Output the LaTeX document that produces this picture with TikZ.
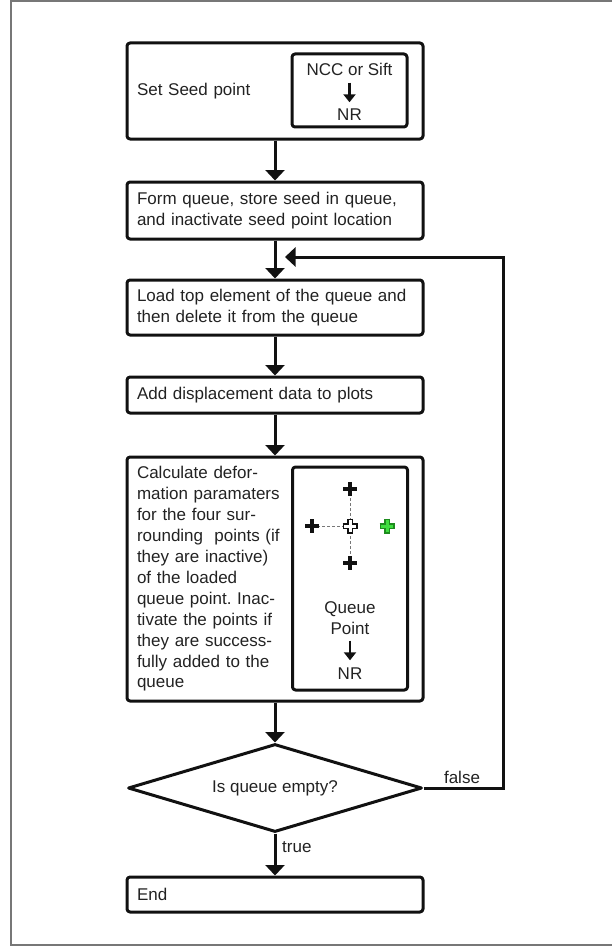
\documentclass[tikz,border=0pt]{standalone}
\usepackage{fontspec}
\setmainfont{Liberation Sans}
\usetikzlibrary{arrows.meta,shapes.geometric}
\definecolor{ink}{HTML}{111111}
\definecolor{txt}{HTML}{222222}
\definecolor{framec}{HTML}{777777}
\definecolor{gdark}{HTML}{1E8C1E}
\definecolor{glight}{HTML}{3FDD3F}
\tikzset{
  pics/blackplus/.style={code={\draw[ink, line width=3.5pt] (-7,0)--(7,0) (0,-7)--(0,7);}},
  pics/hollowplus/.style 2 args={code={
    \draw[#1, line width=6pt] (-7.5,0)--(7.5,0) (0,-7.5)--(0,7.5);
    \draw[#2, line width=3pt] (-6,0)--(6,0) (0,-6)--(0,6);}}
}
\frenchspacing
\begin{document}
\begin{tikzpicture}[x=1pt,y=-1pt,
  every node/.style={text=txt, font=\fontsize{17}{20.9}\selectfont},
  box/.style={draw=ink, line width=3pt, rounded corners=3pt, line join=round, minimum width=296pt, text width=276pt, inner xsep=10pt, inner ysep=0pt, align=left},
  ibox/.style={draw=ink, line width=3pt, rounded corners=3pt, line join=round, minimum width=115pt, inner sep=0pt},
  arr/.style={draw=ink, line width=3pt, -{Triangle[width=19pt,length=10.5pt]}},
  sarr/.style={draw=ink, line width=2.5pt, -{Triangle[width=12pt,length=8pt]}},
  small/.style={text height=12pt, text depth=0pt, inner xsep=0pt, inner ysep=6.5pt},
  dashln/.style={draw=framec, line width=1pt, dash pattern=on 3pt off 2pt},
  lbl/.style={inner sep=0pt}
]
\useasboundingbox (0,0) rectangle (612,947);
\draw[framec, line width=1.5pt] (612,1) -- (11,1) -- (11,945) -- (612,945);

% step 1
\node[box, minimum height=96pt] (seed) at (275,91) {Set Seed point};
\node[ibox, minimum height=73pt] (seedin) at (349.5,90.5) {};
\node[small] (ncc) at (349.5,70) {NCC or Sift};
\node[small] (nr1) at (349.5,115) {NR};
\draw[sarr] (ncc) -- (nr1);

% steps 2-4
\node[box, minimum height=57pt] (form) at (275,210.5) {Form queue, store seed in queue,\\and inactivate seed point location};
\node[box, minimum height=55pt] (load) at (275,307.5) {Load top element of the queue and\\then delete it from the queue};
\node[box, minimum height=36pt] (add) at (275,395) {Add displacement data to plots};

% step 5
\node[box, minimum height=244pt] (calc) at (275,579) {Calculate defor-\\mation paramaters\\for the four sur-\\rounding\ \ points (if\\they are inactive)\\of the loaded\\queue point. Inac-\\tivate the points if\\they are success-\\fully added to the\\queue};
\node[ibox, minimum height=223pt] (calcin) at (350,578.5) {};
\coordinate (c0) at (350,526);
\coordinate (cT) at (350,489);
\coordinate (cB) at (350,563);
\coordinate (cL) at (312,526);
\coordinate (cG) at (387,526);
\draw[dashln] (c0) -- (cT);
\draw[dashln] (c0) -- (cB);
\draw[dashln] (c0) -- (cL);
\pic at (cT) {blackplus};
\pic at (cB) {blackplus};
\pic at (cL) {blackplus};
\pic at (c0) {hollowplus={ink}{white}};
\pic at (cG) {hollowplus={gdark}{glight}};
\node[small] (queue) at (350,607) {Queue};
\node[small] (point) at (350,628) {Point};
\node[small] (nr2) at (350,673) {NR};
\draw[sarr] (point) -- (nr2);

% decision
\node[draw=ink, line width=3pt, line join=round, shape=diamond, aspect=3.34, minimum width=294pt, minimum height=88pt, inner sep=0pt] (dia) at (275,788) {Is queue empty?};
\node[box, minimum height=35pt] (endb) at (275,894.5) {End};

% connectors
\draw[arr] (seed) -- (form);
\draw[arr] (form) -- (load);
\draw[arr] (load) -- (add);
\draw[arr] (add) -- (calc);
\draw[arr] (calc) -- (dia);
\draw[arr] (dia) -- (endb);
\coordinate (loopr) at (503,788);
\coordinate (loopin) at (285,257);
\draw[arr] (dia.east) -- (loopr) |- (loopin);
\node[lbl] (falsel) at (462,777) {false};
\node[lbl, anchor=west] (truel) at (282,847) {true};
\end{tikzpicture}
\end{document}
